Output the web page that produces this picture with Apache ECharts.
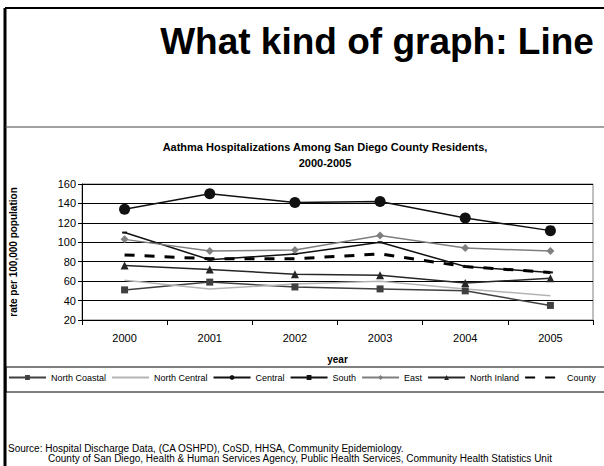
<!DOCTYPE html>
<html>
<head>
<meta charset="utf-8">
<script src="https://cdn.jsdelivr.net/npm/echarts@6/dist/echarts.min.js"></script>
<style>
  html, body { margin: 0; padding: 0; background: #fff; }
  #main { width: 604px; height: 466px; }
</style>
</head>
<body>
<div id="main"></div>
<script>
var years = ['2000', '2001', '2002', '2003', '2004', '2005'];
var northCoastal = [51, 59, 54, 52, 50, 35];
var northCentral = [61, 52, 57, 60, 52, 45];
var central = [134, 150, 141, 142, 125, 112];
var south = [110, 82, 88, 100, 75, 69];
var east = [103, 91, 92, 107, 94, 91];
var northInland = [76, 72, 67, 66, 58, 63];
var county = [87, 83, 83, 88, 75, 69];

var myChart = echarts.init(document.getElementById('main'), null, { renderer: 'svg' });
var font = 'Liberation Sans, Arial, sans-serif';

function line(name, data, color, symbol, size, width, dash) {
    return {
        name: name,
        type: 'line',
        data: data,
        symbol: symbol,
        symbolSize: size,
        itemStyle: { color: color },
        lineStyle: { color: color, width: width || 1.5, type: dash || 'solid' },
        animation: false
    };
}

option = {
    backgroundColor: '#fff',
    textStyle: { fontFamily: font },
    graphic: [
        { type: 'line', shape: { x1: 5, y1: 8, x2: 5, y2: 466 }, style: { stroke: '#000', lineWidth: 3 } },
        { type: 'line', shape: { x1: 5, y1: 8, x2: 604, y2: 8 }, style: { stroke: '#000', lineWidth: 2 } },
        { type: 'line', shape: { x1: 5, y1: 127, x2: 604, y2: 127 }, style: { stroke: '#444', lineWidth: 1 } },
        { type: 'text', x: 377, y: 41, style: { text: 'What kind of graph: Line', font: 'bold 37px ' + font, fill: '#000', align: 'center', verticalAlign: 'middle' } },
        { type: 'text', x: 325, y: 147, style: { text: 'Aathma Hospitalizations Among San Diego County Residents,', font: 'bold 11px ' + font, fill: '#000', align: 'center', verticalAlign: 'middle' } },
        { type: 'text', x: 325, y: 163, style: { text: '2000-2005', font: 'bold 11px ' + font, fill: '#000', align: 'center', verticalAlign: 'middle' } },
        { type: 'rect', shape: { x: 6, y: 367, width: 610, height: 25 }, style: { fill: 'none', stroke: '#000', lineWidth: 1 } },
        { type: 'text', x: 8, y: 448, style: { text: 'Source: Hospital Discharge Data, (CA OSHPD), CoSD, HHSA, Community Epidemiology.', font: '10px ' + font, fill: '#000', verticalAlign: 'middle' } },
        { type: 'text', x: 48, y: 458, style: { text: 'County of San Diego, Health & Human Services Agency, Public Health Services, Community Health Statistics Unit', font: '10px ' + font, fill: '#000', verticalAlign: 'middle' } }
    ],
    legend: {
        left: 8,
        top: 373,
        width: 600,
        padding: 0,
        itemGap: 5,
        itemWidth: 37,
        itemHeight: 6,
        textStyle: { fontSize: 9, color: '#000', fontFamily: font },
        data: ['North Coastal', 'North Central', 'Central', 'South', 'East', 'North Inland', 'County']
    },
    grid: {
        left: 81,
        right: 11,
        top: 184,
        bottom: 146,
        show: true,
        borderColor: '#808080',
        borderWidth: 1
    },
    xAxis: {
        type: 'category',
        data: years,
        boundaryGap: true,
        name: 'year',
        nameLocation: 'middle',
        nameGap: 34,
        nameTextStyle: { fontWeight: 'bold', fontSize: 10, color: '#000' },
        axisLine: { lineStyle: { color: '#000', width: 1 } },
        axisTick: { show: true, length: 5, lineStyle: { color: '#000' } },
        axisLabel: { fontSize: 11, color: '#000', margin: 12 }
    },
    yAxis: {
        type: 'value',
        min: 20,
        max: 160,
        interval: 20,
        name: 'rate per 100,000 population',
        nameLocation: 'middle',
        nameGap: 64,
        nameTextStyle: { fontWeight: 'bold', fontSize: 10, color: '#000' },
        axisLine: { show: true, lineStyle: { color: '#000', width: 1 } },
        axisTick: { show: true, length: 4, lineStyle: { color: '#000' } },
        axisLabel: { fontSize: 11, color: '#000', margin: 6 },
        splitLine: { lineStyle: { color: '#000', width: 1 } }
    },
    series: [
        line('North Coastal', northCoastal, '#404040', 'rect', 7),
        line('North Central', northCentral, '#b4b4b4', 'path://M0,0L10,10M10,0L0,10', 8),
        line('Central', central, '#111', 'circle', 11),
        line('South', south, '#111', 'rect', [5, 2]),
        line('East', east, '#7f7f7f', 'diamond', 8),
        line('North Inland', northInland, '#262626', 'triangle', 8),
        line('County', county, '#000', 'path://M5,0L5,10M0,5L10,5', 9, 3, [10, 10])
    ]
};

myChart.setOption(option);
</script>
</body>
</html>
